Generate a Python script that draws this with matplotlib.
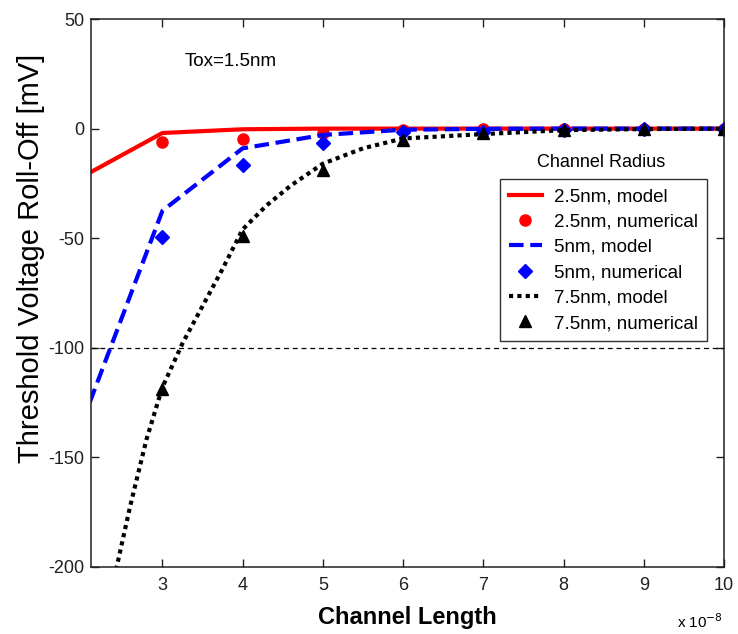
import numpy as np
import matplotlib
matplotlib.use('Agg')
import matplotlib.pyplot as plt
from matplotlib.ticker import FuncFormatter

plt.rcParams['font.family'] = ['Liberation Sans', 'DejaVu Sans']
plt.rcParams['axes.unicode_minus'] = False

# datos (longitud de canal en metros, roll-off en mV)
L_model_25 = [2e-8, 3e-8, 4e-8, 5e-8, 6e-8, 7e-8, 8e-8, 9e-8, 10e-8]
V_model_25 = [-22, -2, -0.3, 0, 0, 0, 0, 0, 0]
L_model_5 = [2e-8, 3e-8, 4e-8, 5e-8, 6e-8, 7e-8, 8e-8, 9e-8, 10e-8]
V_model_5 = [-134, -37.5, -9, -2.9, -0.5, -0.1, 0, 0, 0]
L_model_75 = [2.4e-8, 2.6e-8, 2.8e-8, 3.0e-8, 3.25e-8, 3.5e-8, 3.75e-8, 4.0e-8,
              4.3e-8, 4.6e-8, 5e-8, 5.5e-8, 6e-8, 7e-8, 8e-8, 9e-8, 10e-8]
V_model_75 = [-205, -172, -142, -118, -98, -81, -64, -46,
              -35, -26, -16, -9, -4.5, -2.5, -0.7, -0.2, 0]

L_num = [3e-8, 4e-8, 5e-8, 6e-8, 7e-8, 8e-8, 9e-8, 10e-8]
V_num_25 = [-6, -4.7, -2, -0.5, 0, 0, 0, 0]
V_num_5 = [-49.5, -16.6, -6.7, -1.4, -1.6, -0.5, 0, 0]
V_num_75 = [-119, -49, -19, -5, -2, -0.5, 0, 0]

x_ticks = [3e-8, 4e-8, 5e-8, 6e-8, 7e-8, 8e-8, 9e-8, 10e-8]
y_ticks = [-200, -150, -100, -50, 0, 50]

fig = plt.figure(figsize=(7.38, 6.34), dpi=100)
ax = fig.add_axes([0.1233, 0.1057, 0.8577, 0.8643])

ax.axhline(-100, color='black', lw=0.9, dashes=(4, 3))

ax.plot(L_model_25, V_model_25, color='red', lw=3, label='2.5nm, model')
ax.plot(L_num, V_num_25, 'o', color='red', ms=8, label='2.5nm, numerical')
ax.plot(L_model_5, V_model_5, color='blue', lw=3, dashes=(3.5, 1.6), label='5nm, model')
ax.plot(L_num, V_num_5, 'D', color='blue', ms=7.5, label='5nm, numerical')
ax.plot(L_model_75, V_model_75, color='black', lw=3, dashes=(1, 1), label='7.5nm, model')
ax.plot(L_num, V_num_75, '^', color='black', ms=9, label='7.5nm, numerical')

ax.set_xlim(2.11e-8, 10e-8)
ax.set_ylim(-200, 50)
ax.set_xticks(x_ticks)
ax.set_yticks(y_ticks)
ax.xaxis.set_major_formatter(FuncFormatter(lambda v, p: f'{v / 1e-8:g}'))
ax.tick_params(direction='in', top=True, right=True, length=6, width=1,
               labelsize=13, colors='#202020')
ax.tick_params(axis='x', pad=7)
ax.tick_params(axis='y', pad=5)
for s in ax.spines.values():
    s.set_linewidth(1.1)
    s.set_color('#202020')

ax.set_xlabel('Channel Length', fontsize=17, fontweight='bold', labelpad=9)
ax.set_ylabel('Threshold Voltage Roll-Off [mV]', fontsize=21)
ax.yaxis.set_label_coords(-0.072, 0.564)
fig.text(0.918, 0.004, r'x 10$^{-8}$', fontsize=11, ha='left', va='bottom')

ax.text(3.28e-8, 30.4, 'Tox=1.5nm', fontsize=13.5, va='center')

leg = ax.legend(loc='upper right', bbox_to_anchor=(0.973, 0.708), fontsize=13.5,
                frameon=True, fancybox=False, edgecolor='black', handlelength=1.75,
                borderpad=0.48, labelspacing=0.44, handletextpad=0.65,
                borderaxespad=0)
leg.get_frame().set_linewidth(1.0)
ax.text(0.806, 0.722, 'Channel Radius', transform=ax.transAxes, fontsize=13,
        ha='center', va='bottom')

fig.savefig('out.png', dpi=100)
